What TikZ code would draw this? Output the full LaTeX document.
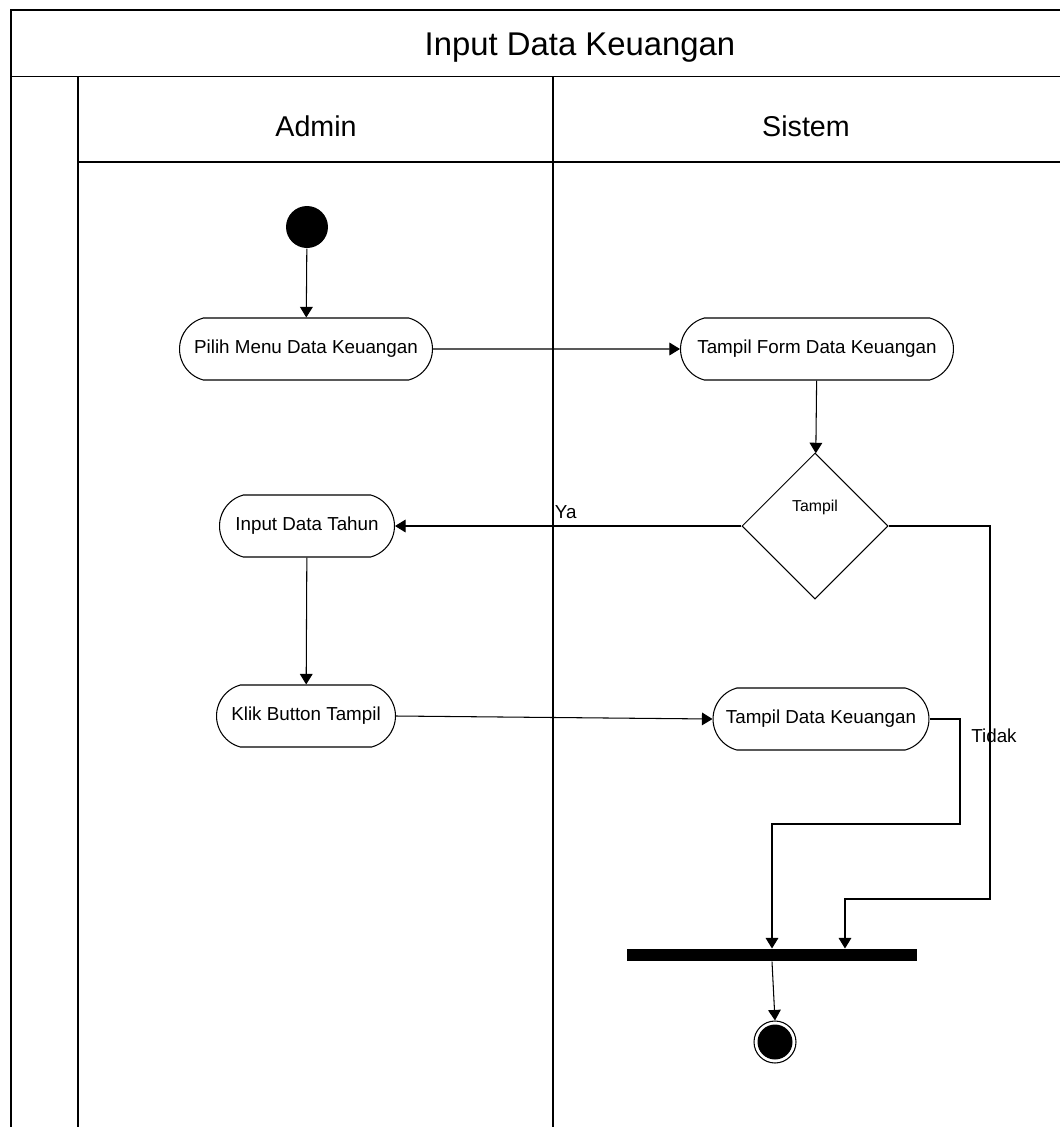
\documentclass[tikz,border=0pt]{standalone}
\usepackage{fontspec}
\setmainfont{Liberation Sans}
\usetikzlibrary{shapes.geometric, shapes.misc, arrows.meta}

\begin{document}
\begin{tikzpicture}[x=0.02cm, y=-0.02cm, line width=0.6pt,
    aksi/.style={rounded rectangle, rounded rectangle arc length=150, draw,
        minimum height=1.24cm, inner sep=0pt, font=\fontsize{10.7}{12}\selectfont},
    keputusan/.style={diamond, draw, minimum width=2.92cm, minimum height=2.92cm, inner sep=0pt},
    panah/.style={-{Triangle[length=6pt, width=7.2pt]}},
    teks/.style={font=\fontsize{10.7}{12}\selectfont, inner sep=0pt}]
    \useasboundingbox (0,0) rectangle (1060,1127);
    % Bingkai
    \draw (11,1127) -- (11,10) -- (1060,10);
    \draw[line width=1pt] (11,76.5) -- (1060,76.5);
    \draw (78,77) -- (78,1127);
    \draw (553,77) -- (553,1127);
    \draw (78,162) -- (1060,162);
    \node[anchor=base, font=\fontsize{18.7}{20}\selectfont] (judul) at (580,55) {Input Data Keuangan};
    \node[anchor=base, font=\fontsize{16.3}{18}\selectfont] (admin) at (316,136) {Admin};
    \node[anchor=base, font=\fontsize{16.3}{18}\selectfont] (sistem) at (806,136) {Sistem};
    % Aktivitas
    \node[circle, fill=black, minimum size=0.84cm, inner sep=0pt] (mulai) at (307,227) {};
    \node[aksi, minimum width=5.06cm] (pilih) at (306,349) {Pilih Menu Data Keuangan};
    \node[aksi, minimum width=5.46cm] (form) at (817,349) {Tampil Form Data Keuangan};
    \node[keputusan, label={[yshift=0.38cm, font=\fontsize{9}{10}\selectfont]center:Tampil}] (cek) at (815,526) {};
    \node[aksi, minimum width=3.5cm] (tahun) at (307,526) {Input Data Tahun};
    \node[aksi, minimum width=3.58cm] (klik) at (306,716) {Klik Button Tampil};
    \node[aksi, minimum width=4.32cm] (tampildata) at (821,719) {Tampil Data Keuangan};
    \node[fill=black, minimum width=5.82cm, minimum height=0.24cm, inner sep=0pt] (bar) at (772,955) {};
    \node[circle, draw, minimum size=0.84cm, inner sep=0pt] (akhir) at (775,1042) {};
    \fill (akhir) circle (0.35cm);
    % Alur
    \coordinate (b1) at (960,824);
    \coordinate (b2) at (990,899);
    \draw[panah] (mulai) -- (pilih);
    \draw[panah] (pilih) -- (form);
    \draw[panah] (form) -- (cek);
    \draw[panah] (cek.west) -- (tahun.east) node[teks, pos=0.54, anchor=south west, yshift=4pt] {Ya};
    \draw[panah] (tahun) -- (klik);
    \draw[panah] (klik.east) -- (tampildata.west);
    \draw[panah] (tampildata.east) -| (b1) -| (bar.north);
    \draw[panah] (cek.east) -| (b2) -| ([xshift=1.46cm]bar.north);
    \node[teks] (tidak) at (994,736) {Tidak};
    \draw[panah] (bar.south) -- (akhir.north);
\end{tikzpicture}
\end{document}
